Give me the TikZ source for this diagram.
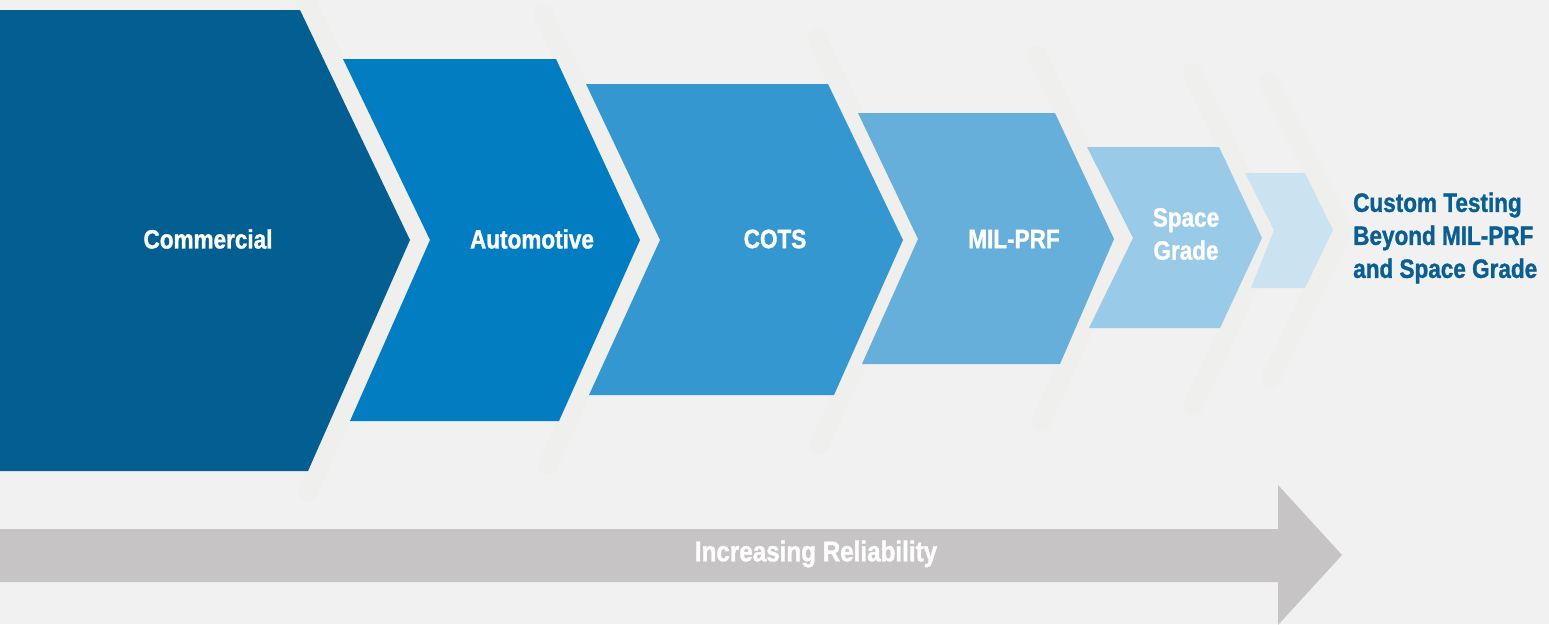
\documentclass[tikz,border=0pt]{standalone}
\usepackage{fontspec}
\newfontfamily\cond{Liberation Sans}[FakeStretch=0.85,FakeBold=1.2]
\definecolor{bg}{HTML}{F0F1F0}
\definecolor{shade}{HTML}{EFEFEE}
\definecolor{cA}{HTML}{035E91}
\definecolor{cB}{HTML}{037DC2}
\definecolor{cC}{HTML}{3497CF}
\definecolor{cD}{HTML}{66AFDA}
\definecolor{cE}{HTML}{99CAE7}
\definecolor{cF}{HTML}{CBE3F1}
\definecolor{arrowgray}{HTML}{C6C4C4}
\definecolor{txtblue}{HTML}{0A5E91}
\tikzset{
  shadowband/.style={draw=shade,line width=19pt,line cap=round,line join=round},
  lbl/.style={text=white,font=\cond\bfseries\fontsize{26.5}{33}\selectfont,align=center,inner sep=0pt},
}
\begin{document}
\begin{tikzpicture}[x=1pt,y=-1pt]
\fill[bg] (0,0) rectangle (1549,624);
\useasboundingbox (0,0) rectangle (1549,624);
% shadow bands
\draw[shadowband] (303,-5) -- (420,240) -- (308,492);
\draw[shadowband] (543,14) -- (650,240) -- (548,465);
\draw[shadowband] (817,38) -- (913,240) -- (819,445);
\draw[shadowband] (1037,55) -- (1124,239) -- (1041,422);
\draw[shadowband] (1192,72) -- (1271,238) -- (1193,406);
\draw[shadowband] (1269,82) -- (1343,230) -- (1271,378);
% chevrons
\fill[cA] (-5,10) -- (300,10) -- (410,240) -- (308,471) -- (-5,471) -- cycle;
\fill[cB] (343,59) -- (556,59) -- (640,240) -- (559,421) -- (350,421) -- (430,240) -- cycle;
\fill[cC] (586,84) -- (828,84) -- (903,240) -- (834,395) -- (589,395) -- (660,240) -- cycle;
\fill[cD] (858,113) -- (1055,113) -- (1114,239) -- (1060,364) -- (862,364) -- (918,239) -- cycle;
\fill[cE] (1087,147) -- (1219,147) -- (1262,238) -- (1220,328) -- (1089,328) -- (1133,238) -- cycle;
\fill[cF] (1245,173) -- (1305,173) -- (1333,230) -- (1305,288) -- (1251,288) -- (1274,230) -- cycle;
% labels
\node[lbl] (commercial) at (208,239) {Commercial};
\node[lbl] (automotive) at (532,239) {Automotive};
\node[lbl] (cots) at (775,239) {COTS};
\node[lbl] (milprf) at (1014,239) {MIL-PRF};
\node[lbl] (space) at (1186,234) {Space\\Grade};
\node[lbl,text=txtblue,align=left,anchor=west] (custom) at (1353,238) {Custom Testing\\Beyond MIL-PRF\\and Space Grade};
% reliability arrow
\fill[arrowgray] (-5,529) -- (1278,529) -- (1278,485) -- (1342,555) -- (1278,625) -- (1278,582) -- (-5,582) -- cycle;
\node[lbl,font=\cond\bfseries\fontsize{28.5}{33}\selectfont] (reliability) at (816,554) {Increasing Reliability};
\end{tikzpicture}
\end{document}
